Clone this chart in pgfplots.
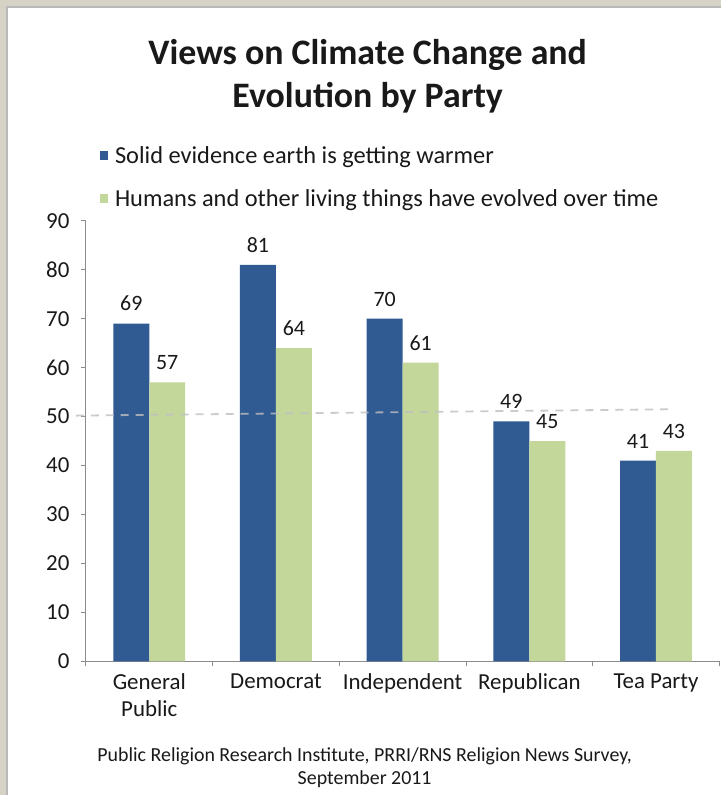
\documentclass[border=0pt]{standalone}
\usepackage{fontspec}
\setmainfont{Carlito}
\usepackage{pgfplots}
\pgfplotsset{compat=1.18}
\definecolor{barblue}{RGB}{47,90,146}
\definecolor{bargreen}{RGB}{196,215,155}
\definecolor{framec}{RGB}{214,210,198}
\definecolor{txt}{RGB}{25,25,25}
\definecolor{axc}{RGB}{140,140,140}
\begin{document}
\begin{tikzpicture}[x=1bp,y=1bp]
\fill[framec] (0,0) rectangle (722,796);
\fill[white] (8,0) rectangle (722,789);
\draw[gray!55, line width=1.5bp] (7,0) -- (7,789) -- (722,789);
\node[align=center, font=\fontsize{36}{43}\selectfont\bfseries, text=txt] at (368,720) {Views on Climate Change and\\Evolution by Party};
\begin{axis}[
  at={(86bp,134bp)}, anchor=south west,
  scale only axis, width=634bp, height=441bp,
  xmin=-0.5, xmax=4.5, ymin=0, ymax=90,
  clip=false,
  axis x line*=bottom, axis y line*=left,
  axis line style={draw=axc, line width=0.9bp, -},
  ytick={0,10,...,90},
  xtick={-0.5,0.5,...,4.5}, xticklabels={},
  extra x ticks={0,1,2,3,4},
  extra x tick labels={General\\Public, Democrat, Independent, Republican, Tea Party},
  extra x tick style={major tick length=0pt, tick label style={align=center, font=\fontsize{23}{27}\selectfont, text=txt, yshift=-9bp}},
  tick align=outside, major tick length=5bp,
  tick style={draw=axc, line width=0.9bp},
  yticklabel style={font=\fontsize{23}{23}\selectfont, text=txt, xshift=-8bp},
  /pgf/number format/assume math mode=true,
  legend style={at={(0.022,1.174)}, anchor=north west, draw=none, fill=none,
    font=\fontsize{24.5}{24.5}\selectfont, text=txt, row sep=21bp, inner sep=0pt,
    nodes={inner xsep=2bp}},
  legend cell align=left,
  legend image code/.code={\path[#1, draw=none] (0bp,-4bp) rectangle (8bp,5bp); \path (13bp,0bp);},
]
\addplot[ybar, bar width=36bp, bar shift=-18bp, fill=barblue, draw=none,
  nodes near coords, nodes near coords style={font=\fontsize{22}{22}\selectfont, text=txt, anchor=south, xshift=-18bp, yshift=9bp}]
  coordinates {(0,69) (1,81) (2,70) (3,49) (4,41)};
\addlegendentry{Solid evidence earth is getting warmer}
\addplot[ybar, bar width=36bp, bar shift=18bp, fill=bargreen, draw=none,
  nodes near coords, nodes near coords style={font=\fontsize{22}{22}\selectfont, text=txt, anchor=south, xshift=18bp, yshift=9bp}]
  coordinates {(0,57) (1,64) (2,61) (3,45) (4,43)};
\addlegendentry{Humans and other living things have evolved over time}
\addplot[sharp plot, no marks, draw=gray!50, draw opacity=0.8, line width=1.8bp, dash pattern=on 8bp off 7bp, forget plot]
  coordinates {(-0.58,50.2) (4.13,51.5)};
\end{axis}
\node[align=center, font=\fontsize{20}{23}\selectfont, text=txt] at (365,28) {Public Religion Research Institute, PRRI/RNS Religion News Survey,\\September 2011};
\end{tikzpicture}
\end{document}
